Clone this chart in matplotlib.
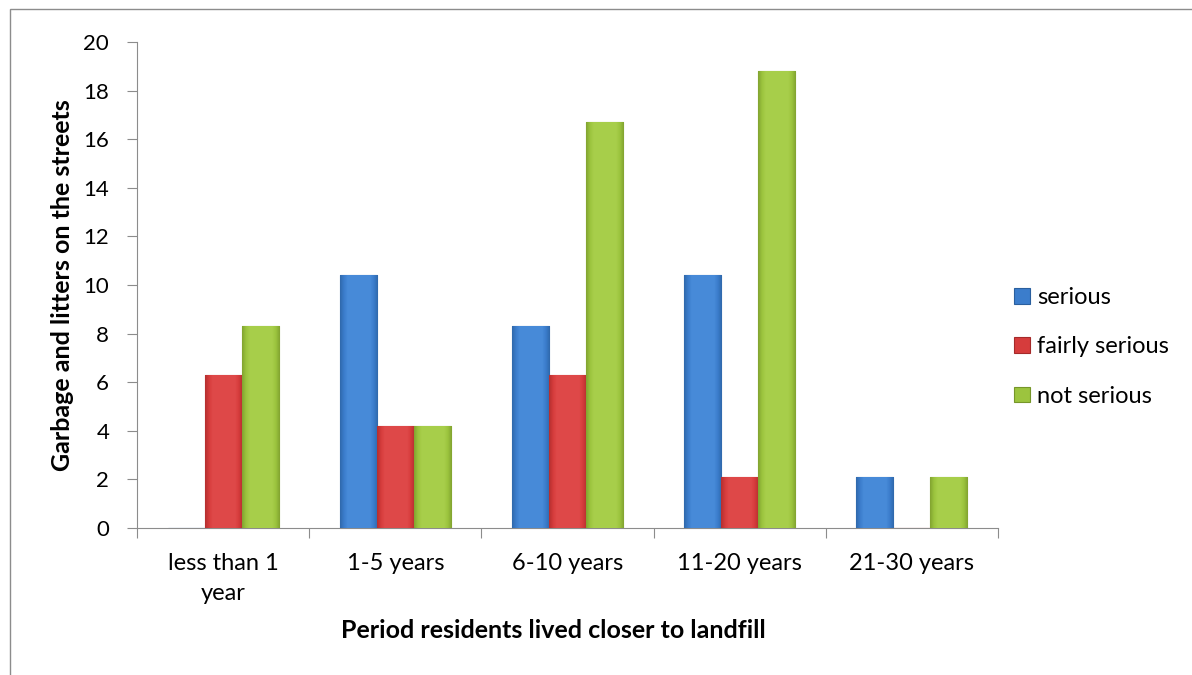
import numpy as np
import matplotlib.pyplot as plt
from matplotlib.patches import Rectangle
from matplotlib.colors import LinearSegmentedColormap

categories = ["less than 1\nyear", "1-5 years", "6-10 years", "11-20 years", "21-30 years"]
serious = [0, 10.4, 8.3, 10.4, 2.1]
fairly_serious = [6.3, 4.2, 6.3, 2.1, 0]
not_serious = [8.3, 4.2, 16.7, 18.8, 2.1]

# name, values, base colour, edge/dark, light
series = [("serious", serious, "#3b7dcc", "#2a5f9e", "#4f93e0"),
          ("fairly serious", fairly_serious, "#d63c3c", "#a52a2a", "#e45050"),
          ("not serious", not_serious, "#9cc43e", "#76962a", "#aed452")]

plt.rcParams['font.family'] = ['Lato', 'DejaVu Sans']

W, H = 1192, 675
fig = plt.figure(figsize=(W / 100, H / 100), dpi=100)
ax = fig.add_axes([137 / W, 1 - 528 / H, (998 - 137) / W, (528 - 42) / H])

# outer chart frame (only left/top edges visible in the picture)
fig.patches.append(Rectangle((10 / W, -0.05), 1.1, 1 - 9 / H + 0.05,
                             transform=fig.transFigure, fill=False,
                             edgecolor="#8c8c8c", linewidth=1.0))

x = np.arange(len(categories))
w = 0.215
prof = np.concatenate([np.linspace(0, 1, 8), np.ones(20), np.linspace(1, 0, 8)])[None, :]
for i, (name, vals, fc, dark, light) in enumerate(series):
    bars = ax.bar(x + (i - 1) * w, vals, width=w, color=fc, edgecolor=dark,
                  linewidth=0.8, label=name, zorder=3)
    cmap = LinearSegmentedColormap.from_list(name, [dark, fc, light])
    for b in bars:
        if b.get_height() <= 0:
            continue
        x0, y0 = b.get_x(), b.get_y()
        im = ax.imshow(prof, cmap=cmap, vmin=-0.3, vmax=1.3, aspect="auto",
                       extent=[x0, x0 + b.get_width(), y0, y0 + b.get_height()],
                       zorder=3.5, interpolation="bilinear")
        im.set_clip_path(b)

ax.set_xlim(-0.5, len(categories) - 0.5)
ax.set_ylim(0, 20)
ax.set_yticks(range(0, 21, 2))
ax.set_xticks(np.arange(-0.5, len(categories), 1.0))
ax.set_xticklabels([])
ax.set_xticks(x, minor=True)
ax.set_xticklabels(categories, minor=True, fontsize=17, linespacing=1.5)
ax.tick_params(axis="x", which="minor", length=0, pad=18)
ax.tick_params(axis="x", which="major", length=7, direction="out", color="#8c8c8c")
ax.tick_params(axis="y", length=7, direction="out", color="#8c8c8c", labelsize=16, pad=13)

for s in ["top", "right"]:
    ax.spines[s].set_visible(False)
for s in ["left", "bottom"]:
    ax.spines[s].set_color("#8c8c8c")

ax.set_ylabel("Garbage and litters on the streets", fontsize=18, fontweight="bold", va="center")
ax.yaxis.set_label_coords((63 - 137) / 861, 0.5)
ax.set_xlabel("Period residents lived closer to landfill", fontsize=18, fontweight="bold", va="center")
ax.xaxis.set_label_coords((553 - 137) / 861, (528 - 630) / 486)

ax.legend(loc="center left", bbox_to_anchor=(1.008, (528 - 347) / 486), frameon=False,
          fontsize=17, handlelength=0.65, handleheight=0.65, handletextpad=0.3,
          labelspacing=1.2, borderaxespad=0)

fig.savefig("out.png", dpi=100)
